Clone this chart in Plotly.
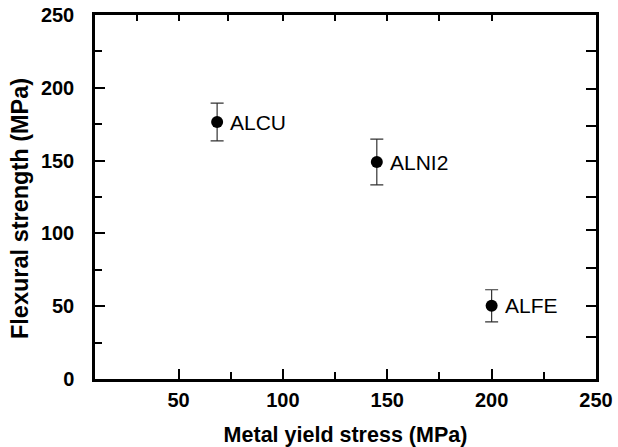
import plotly.graph_objects as go

# Data
alloys = ["ALCU", "ALNI2", "ALFE"]
yield_stress = [68.5, 145.0, 200.0]
flexural_strength = [176.5, 149.0, 50.3]
flexural_err = [13.0, 15.7, 11.0]

x_major = [50, 100, 150, 200, 250]
x_minor = [75, 125, 175, 225]
y_major = [0, 50, 100, 150, 200, 250]
y_minor = [25, 75, 125, 175, 225]
top_ticks = [30, 50, 73.5, 100, 125, 150, 175, 200]
right_ticks = [29, 50, 76, 102, 125, 150, 174, 199, 225]

FONT = "Liberation Sans, Arial, sans-serif"

fig = go.Figure()
fig.add_trace(go.Scatter(
    x=yield_stress, y=flexural_strength, mode="markers",
    marker=dict(color="black", size=12),
    error_y=dict(type="data", array=flexural_err, color="#333333",
                 thickness=1.2, width=6.5),
    showlegend=False, hoverinfo="skip",
))
# empty trace so the top/right tick axes are drawn
fig.add_trace(go.Scatter(x=[], y=[], xaxis="x2", yaxis="y2",
                         showlegend=False, hoverinfo="skip"))

for name, xv, yv in zip(alloys, yield_stress, flexural_strength):
    fig.add_annotation(x=xv, y=yv, text=name, showarrow=False,
                       xanchor="left", yanchor="middle", xshift=11, yshift=0,
                       font=dict(family=FONT, size=21, color="black"))

# y-axis title placed as a rotated annotation (slightly below plot centre)
fig.add_annotation(xref="paper", yref="paper", x=0, y=0.467, xshift=-75,
                   xanchor="center", yanchor="middle", textangle=-90,
                   text="Flexural strength (MPa)", showarrow=False,
                   font=dict(family=FONT, size=23.5, color="black", weight="bold"))

fig.update_layout(
    width=618, height=447,
    margin=dict(l=95, r=22, t=15, b=68),
    paper_bgcolor="white", plot_bgcolor="white",
    font=dict(family=FONT, color="black"),
    xaxis=dict(
        range=[10, 250], tickmode="array", tickvals=x_major,
        ticks="inside", ticklen=10, tickwidth=2, tickcolor="black",
        minor=dict(tickmode="array", tickvals=x_minor, ticks="inside",
                   ticklen=7, tickwidth=2, tickcolor="black"),
        showline=True, linewidth=2.5, linecolor="black", mirror=True,
        showgrid=False, zeroline=False, automargin=False,
        ticklabeloverflow="allow",
        tickfont=dict(family=FONT, size=20, color="black", weight="bold"),
        ticklabelstandoff=1,
        title=dict(text="Metal yield stress (MPa)", standoff=32,
                   font=dict(family=FONT, size=21.5, color="black", weight="bold")),
    ),
    yaxis=dict(
        range=[0, 250], tickmode="array", tickvals=y_major,
        ticks="inside", ticklen=10, tickwidth=2, tickcolor="black",
        minor=dict(tickmode="array", tickvals=y_minor, ticks="inside",
                   ticklen=7, tickwidth=2, tickcolor="black"),
        showline=True, linewidth=2.5, linecolor="black", mirror=True,
        showgrid=False, zeroline=False, automargin=False,
        ticklabeloverflow="allow",
        tickfont=dict(family=FONT, size=20, color="black", weight="bold"),
        ticklabelstandoff=14,
    ),
    xaxis2=dict(
        overlaying="x", side="top", anchor="y", range=[10, 250],
        tickmode="array", tickvals=top_ticks, ticks="inside", ticklen=6,
        tickwidth=2, tickcolor="black", showticklabels=False,
        showline=False, showgrid=False, zeroline=False,
    ),
    yaxis2=dict(
        overlaying="y", side="right", anchor="x", range=[0, 250],
        tickmode="array", tickvals=right_ticks, ticks="inside", ticklen=10,
        tickwidth=2, tickcolor="black", showticklabels=False,
        showline=False, showgrid=False, zeroline=False,
    ),
)

# remove the default 8px page margin so the 618x447 figure fills the window
fig.write_html("out.html", config={"displayModeBar": False},
               post_script="document.body.style.margin='0px';")
